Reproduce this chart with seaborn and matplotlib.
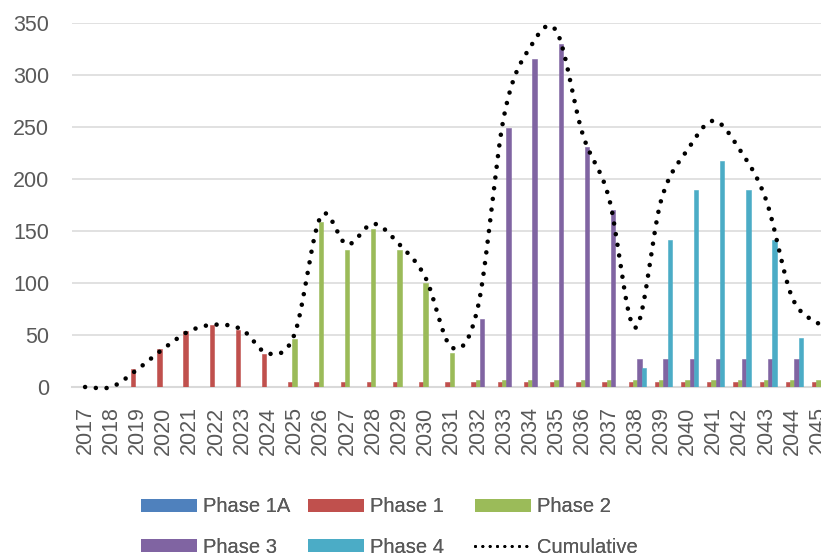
import numpy as np
import pandas as pd
import matplotlib
matplotlib.use("Agg")
import matplotlib.pyplot as plt
from matplotlib.patches import Patch
from matplotlib.lines import Line2D
import seaborn as sns

# ---- data -------------------------------------------------------------
years = [str(y) for y in range(2017, 2046)]

phase_1a = [0, 0, 0, 0, 0, 0, 0, 0, 0, 0, 0, 0, 0, 0, 0,
            0, 0, 0, 0, 0, 0, 0, 0, 0, 0, 0, 0, 0, 0]
phase_1 = [0, 0, 17, 37, 54, 60, 55, 32, 5, 5, 5, 5, 5, 5, 5,
           5, 5, 5, 5, 5, 5, 5, 5, 5, 5, 5, 5, 5, 5]
phase_2 = [0, 0, 0, 0, 0, 0, 0, 0, 46, 159, 132, 152, 132, 100, 33,
           7, 7, 7, 7, 7, 7, 7, 7, 7, 7, 7, 7, 7, 7]
phase_3 = [0, 0, 0, 0, 0, 0, 0, 0, 0, 0, 0, 0, 0, 0, 0,
           65, 249, 315, 330, 231, 170, 27, 27, 27, 27, 27, 27, 27, 27]
phase_4 = [0, 0, 0, 0, 0, 0, 0, 0, 0, 0, 0, 0, 0, 0, 0,
           0, 0, 0, 0, 0, 0, 18, 141, 189, 217, 189, 141, 47, 22]

phase_names = ["Phase 1A", "Phase 1", "Phase 2", "Phase 3", "Phase 4"]
phase_colors = ["#4F81BD", "#C0504D", "#9BBB59", "#8064A2", "#4BACC6"]
series = [phase_1a, phase_1, phase_2, phase_3, phase_4]

# cumulative = total across phases for each year
cumulative = np.sum(np.array(series, dtype=float), axis=0)

df = pd.DataFrame({
    "year": np.tile(years, len(phase_names)),
    "phase": np.repeat(phase_names, len(years)),
    "value": np.concatenate([np.asarray(s, dtype=float) for s in series]),
})

# ---- style ------------------------------------------------------------
sns.set_theme(style="white")
plt.rcParams["font.family"] = ["Liberation Sans", "DejaVu Sans"]
text_color = "#595959"
grid_color = "#D9D9D9"

W, H = 821, 560
fig = plt.figure(figsize=(W / 100, H / 100), dpi=100)
# plot area runs slightly past the right edge of the canvas
left, right, bottom, top = 72, 831.5, 387, 23
ax = fig.add_axes([left / W, 1 - bottom / H, (right - left) / W, (bottom - top) / H])

sns.barplot(data=df, x="year", y="value", hue="phase",
            hue_order=phase_names, palette=phase_colors, saturation=1,
            width=0.82, dodge=True, legend=False, ax=ax, zorder=2)
# give each bar a thin outline in its own colour so the slim bars read solid
for bar in ax.patches:
    bar.set_edgecolor(bar.get_facecolor())
    bar.set_linewidth(0.4)


def smooth_curve(xs, ys, n=40):
    """Cubic Bezier smoothing through every point (Catmull-Rom style)."""
    pts = np.column_stack([xs, ys]).astype(float)
    ext = np.vstack([pts[0], pts, pts[-1]])
    out = []
    t = np.linspace(0, 1, n)[:, None]
    for i in range(len(pts) - 1):
        p0, p1, p2, p3 = ext[i], ext[i + 1], ext[i + 2], ext[i + 3]
        c1 = p1 + (p2 - p0) / 6.0
        c2 = p2 - (p3 - p1) / 6.0
        seg = ((1 - t) ** 3) * p1 + 3 * ((1 - t) ** 2) * t * c1 \
            + 3 * (1 - t) * t ** 2 * c2 + t ** 3 * p2
        out.append(seg if i == 0 else seg[1:])
    out = np.vstack(out)
    return out[:, 0], out[:, 1]


sx, sy = smooth_curve(np.arange(len(years)), cumulative)
ax.plot(sx, sy, color="black", lw=3.3, linestyle=(0, (0.001, 2.35)),
        dash_capstyle="round", zorder=4, clip_on=False)

ax.set_xlim(-0.5, len(years) - 0.5)
ax.set_ylim(0, 350)
ax.set_yticks(range(0, 351, 50))
ax.set_xlabel("")
ax.set_ylabel("")
ax.yaxis.grid(True, color=grid_color, lw=1.1)
ax.xaxis.grid(False)
ax.set_axisbelow(True)
for side in ["top", "right", "left"]:
    ax.spines[side].set_visible(False)
ax.spines["bottom"].set_color(grid_color)
ax.spines["bottom"].set_linewidth(1.5)
ax.spines["bottom"].set_zorder(1)

ax.tick_params(axis="y", length=0, pad=16.5, labelsize=15.5, labelcolor=text_color)
ax.tick_params(axis="x", length=0, pad=14, labelsize=15.5, labelcolor=text_color,
               labelrotation=90)

# ---- legend: three columns of two entries ---------------------------------
leg_fs = 14.5
fs_px = leg_fs * 100 / 72
handles = {name: Patch(facecolor=c, edgecolor="none")
           for name, c in zip(phase_names, phase_colors)}
handles["Cumulative"] = Line2D([], [], color="black", lw=2.2,
                               linestyle=(0, (0.001, 2.4)), dash_capstyle="round")
columns = [(["Phase 1A", "Phase 3"], 141),
           (["Phase 1", "Phase 4"], 308),
           (["Phase 2", "Cumulative"], 475)]
for names, x0 in columns:
    leg = fig.legend([handles[n] for n in names], names,
                     loc="center left", bbox_to_anchor=(x0 / W, 1 - 527 / H),
                     bbox_transform=fig.transFigure, frameon=False,
                     fontsize=leg_fs, borderpad=0, borderaxespad=0,
                     handlelength=56 / fs_px, handleheight=12 / fs_px,
                     handletextpad=0.3, labelspacing=1.05)
    for t in leg.get_texts():
        t.set_color(text_color)
    fig.add_artist(leg)

fig.savefig("out.png", dpi=100)
